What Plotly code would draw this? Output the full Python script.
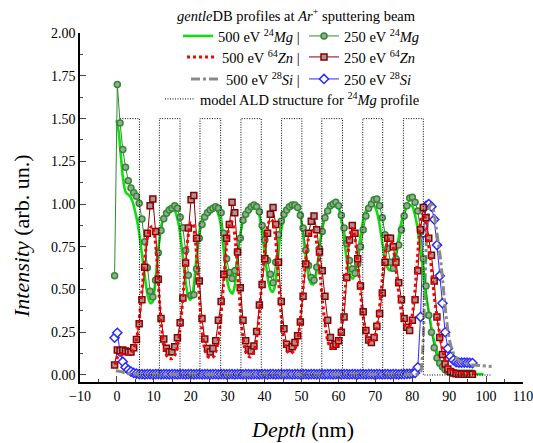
import plotly.graph_objects as go

FONT = "Liberation Serif"

# ---------------- data ----------------
# 250 eV profiles (measured points, common depth grid)
DEPTH_250 = [
    -0.63, 0.11, 0.85, 1.59, 2.33, 3.07, 3.81, 4.55, 5.29, 6.03,
    6.77, 7.51, 8.25, 8.99, 9.73, 10.47, 11.21, 11.95, 12.69, 13.43,
    14.17, 14.91, 15.65, 16.39, 17.13, 17.87, 18.61, 19.35, 20.09, 20.83,
    21.57, 22.31, 23.05, 23.79, 24.53, 25.27, 26.01, 26.75, 27.49, 28.23,
    28.97, 29.71, 30.45, 31.19, 31.93, 32.67, 33.41, 34.15, 34.89, 35.63,
    36.37, 37.11, 37.85, 38.59, 39.33, 40.07, 40.81, 41.55, 42.29, 43.03,
    43.77, 44.51, 45.25, 45.99, 46.73, 47.47, 48.21, 48.95, 49.69, 50.43,
    51.17, 51.91, 52.65, 53.39, 54.13, 54.87, 55.61, 56.35, 57.09, 57.83,
    58.57, 59.31, 60.05, 60.79, 61.53, 62.27, 63.01, 63.75, 64.49, 65.23,
    65.97, 66.71, 67.45, 68.19, 68.93, 69.67, 70.41, 71.15, 71.89, 72.63,
    73.37, 74.11, 74.85, 75.59, 76.33, 77.07, 77.81, 78.55, 79.29, 80.03,
    80.77, 81.51, 82.25, 82.99, 83.73, 84.47, 85.21, 85.95, 86.69, 87.43,
    88.17, 88.91, 89.65, 90.39, 91.13, 91.87, 92.61, 93.35, 94.09, 94.83,
    95.57, 96.31,
]
MG_250 = [
    0.58, 1.70, 1.475, 1.32, 1.215, 1.137, 1.094, 1.067, 1.046, 1.005,
    0.912, 0.78, 0.628, 0.49, 0.457, 0.554, 0.715, 0.845, 0.914, 0.946,
    0.966, 0.976, 0.99, 0.976, 0.923, 0.861, 0.729, 0.583, 0.466, 0.47,
    0.62, 0.80, 0.88, 0.925, 0.95, 0.965, 0.975, 0.985, 0.975, 0.95,
    0.83, 0.68, 0.60, 0.565, 0.61, 0.72, 0.80, 0.905, 0.94, 0.965,
    0.985, 0.995, 0.985, 0.955, 0.875, 0.79, 0.67, 0.59, 0.54, 0.66,
    0.82, 0.90, 0.94, 0.965, 0.985, 0.995, 0.995, 0.98, 0.935, 0.86,
    0.73, 0.64, 0.57, 0.555, 0.63, 0.74, 0.84, 0.92, 0.96, 0.99,
    1.0, 1.01, 0.99, 0.935, 0.86, 0.77, 0.67, 0.62, 0.595, 0.65,
    0.75, 0.85, 0.93, 0.975, 1.0, 1.025, 1.03, 0.99, 0.92, 0.82,
    0.74, 0.66, 0.625, 0.68, 0.76, 0.85, 0.93, 0.99, 1.035, 1.04,
    1.01, 0.96, 0.84, 0.68, 0.52, 0.35, 0.25, 0.16, 0.10, 0.068,
    0.048, 0.03, 0.02, 0.015, 0.012, 0.01, 0.01, 0.01, 0.01, 0.01,
    0.01, 0.01,
]
ZN_250 = [
    0.058, 0.146, 0.142, 0.146, 0.14, 0.134, 0.135, 0.16, 0.208, 0.30,
    0.44, 0.63, 0.83, 0.99, 1.03, 0.84, 0.56, 0.33, 0.21, 0.156,
    0.136, 0.136, 0.165, 0.218, 0.305, 0.45, 0.655, 0.86, 1.026, 1.05,
    0.80, 0.55, 0.33, 0.21, 0.155, 0.135, 0.155, 0.20, 0.32, 0.43,
    0.59, 0.80, 0.88, 1.01, 0.95, 0.72, 0.51, 0.32, 0.20, 0.15,
    0.14, 0.17, 0.255, 0.41, 0.53, 0.68, 0.83, 0.94, 0.98, 0.88,
    0.66, 0.43, 0.27, 0.18, 0.155, 0.165, 0.19, 0.23, 0.31, 0.46,
    0.65, 0.83, 0.90, 0.93, 0.85, 0.72, 0.61, 0.46, 0.32, 0.22,
    0.168, 0.18, 0.20, 0.25, 0.34, 0.57, 0.79, 0.875, 0.83, 0.68,
    0.52, 0.37, 0.26, 0.205, 0.19, 0.22, 0.285, 0.36, 0.48, 0.66,
    0.80, 0.80, 0.75, 0.66, 0.54, 0.44, 0.33, 0.28, 0.26, 0.32,
    0.44, 0.61, 0.85, 0.98, 0.92, 0.80, 0.70, 0.55, 0.34, 0.22,
    0.12, 0.065, 0.035, 0.02, 0.012, 0.008, 0.006, 0.005, 0.005, 0.005,
    0.005, 0.005,
]
SI_250 = [
    0.218, 0.247, 0.136, 0.078, 0.045, 0.03, 0.02, 0.012, 0.008, 0.005,
    0.005, 0.004, 0.005, 0.005, 0.004, 0.005, 0.005, 0.004, 0.005, 0.005,
    0.004, 0.005, 0.005, 0.004, 0.005, 0.005, 0.004, 0.005, 0.005, 0.004,
    0.005, 0.005, 0.004, 0.005, 0.005, 0.004, 0.005, 0.005, 0.004, 0.005,
    0.005, 0.004, 0.005, 0.005, 0.004, 0.005, 0.005, 0.004, 0.005, 0.005,
    0.004, 0.005, 0.005, 0.004, 0.005, 0.005, 0.004, 0.005, 0.005, 0.004,
    0.005, 0.005, 0.004, 0.005, 0.005, 0.004, 0.005, 0.005, 0.004, 0.005,
    0.005, 0.004, 0.005, 0.005, 0.004, 0.005, 0.005, 0.004, 0.005, 0.005,
    0.004, 0.005, 0.005, 0.004, 0.005, 0.005, 0.004, 0.005, 0.005, 0.004,
    0.005, 0.005, 0.004, 0.005, 0.005, 0.004, 0.005, 0.005, 0.004, 0.005,
    0.005, 0.004, 0.005, 0.005, 0.004, 0.005, 0.005, 0.006, 0.007, 0.008,
    0.012, 0.045, 0.34, 0.83, 0.99, 1.0, 0.985, 0.91, 0.76, 0.58,
    0.42, 0.25, 0.155, 0.108, 0.087, 0.075, 0.072, 0.072, 0.073, 0.072,
    0.071, 0.07,
]

# 500 eV profiles (continuous curves)
DEPTH_MG_500 = [
    -0.1, 0.5, 1.0, 1.5, 2.0, 2.5, 3.1, 3.7, 4.3, 4.9,
    5.5, 6.1, 6.7, 7.3, 7.9, 8.5, 9.1, 9.7, 10.3, 10.9,
    11.5, 12.1, 12.7, 13.4, 14.1, 14.8, 15.5, 16.2, 16.9, 17.5,
    18.1, 18.7, 19.3, 19.8, 20.4, 21.0, 21.6, 22.2, 22.8, 23.5,
    24.3, 25.2, 26.0, 26.8, 27.5, 28.2, 28.8, 29.4, 30.0, 30.7,
    31.3, 31.9, 32.5, 33.1, 33.8, 34.5, 35.3, 36.2, 37.0, 37.8,
    38.5, 39.1, 39.7, 40.3, 41.0, 41.6, 42.2, 42.8, 43.4, 44.0,
    44.7, 45.4, 46.2, 47.1, 48.0, 48.8, 49.5, 50.1, 50.7, 51.3,
    51.9, 52.6, 53.2, 53.8, 54.4, 55.0, 55.7, 56.4, 57.2, 58.0,
    58.8, 59.6, 60.3, 60.9, 61.5, 62.1, 62.7, 63.3, 63.9, 64.5,
    65.1, 65.7, 66.4, 67.1, 67.9, 68.7, 69.5, 70.2, 70.9, 71.5,
    72.1, 72.8, 73.5, 74.2, 74.9, 75.6, 76.3, 77.0, 77.8, 78.6,
    79.4, 80.1, 80.8, 81.5, 82.1, 82.6, 83.2, 83.8, 84.4, 85.0,
    85.6, 86.2, 86.8, 87.4, 88.0, 88.7, 89.4, 90.5, 92.0, 95.0,
    99.3,
]
MG_500 = [
    1.49, 1.42, 1.30, 1.18, 1.10, 1.065, 1.055, 1.04, 1.01, 0.96,
    0.90, 0.82, 0.72, 0.62, 0.52, 0.45, 0.42, 0.43, 0.52, 0.66,
    0.79, 0.88, 0.93, 0.955, 0.97, 0.978, 0.97, 0.93, 0.86, 0.76,
    0.64, 0.53, 0.46, 0.44, 0.46, 0.56, 0.70, 0.82, 0.89, 0.93,
    0.955, 0.975, 0.985, 0.975, 0.94, 0.87, 0.76, 0.64, 0.54, 0.49,
    0.476, 0.52, 0.64, 0.77, 0.87, 0.93, 0.965, 0.985, 0.99, 0.975,
    0.94, 0.87, 0.77, 0.66, 0.55, 0.50, 0.486, 0.52, 0.63, 0.77,
    0.87, 0.93, 0.965, 0.985, 0.995, 0.985, 0.95, 0.88, 0.78, 0.67,
    0.58, 0.535, 0.53, 0.57, 0.66, 0.77, 0.87, 0.94, 0.98, 1.0,
    1.01, 1.0, 0.96, 0.89, 0.80, 0.70, 0.62, 0.575, 0.564, 0.59,
    0.67, 0.77, 0.87, 0.94, 0.98, 1.0, 0.995, 0.97, 0.91, 0.83,
    0.74, 0.66, 0.62, 0.612, 0.63, 0.70, 0.80, 0.89, 0.95, 0.985,
    0.995, 0.985, 0.93, 0.85, 0.75, 0.67, 0.55, 0.46, 0.38, 0.30,
    0.23, 0.175, 0.125, 0.085, 0.058, 0.035, 0.02, 0.012, 0.008, 0.006,
    0.005,
]
DEPTH_ZN_500 = [
    -0.5, 0.3, 1.2, 2.2, 3.2, 4.0, 4.7, 5.4, 6.0, 6.6,
    7.2, 7.8, 8.4, 9.0, 9.6, 10.2, 10.8, 11.4, 12.0, 12.6,
    13.3, 14.0, 14.8, 15.6, 16.3, 17.0, 17.6, 18.2, 18.8, 19.4,
    20.0, 20.6, 21.2, 21.8, 22.4, 23.0, 23.7, 24.5, 25.4, 26.3,
    27.1, 27.8, 28.4, 29.0, 29.6, 30.2, 30.8, 31.4, 32.0, 32.6,
    33.2, 33.8, 34.5, 35.3, 36.2, 37.0, 37.7, 38.4, 39.0, 39.6,
    40.2, 40.8, 41.5, 42.2, 42.8, 43.4, 44.0, 44.6, 45.3, 46.1,
    47.0, 47.9, 48.7, 49.4, 50.0, 50.6, 51.2, 51.8, 52.5, 53.2,
    53.9, 54.5, 55.1, 55.7, 56.3, 57.0, 57.7, 58.5, 59.3, 60.0,
    60.7, 61.3, 61.9, 62.5, 63.0, 63.6, 64.2, 64.8, 65.4, 66.0,
    66.6, 67.3, 68.0, 68.8, 69.6, 70.3, 70.9, 71.5, 72.1, 72.7,
    73.4, 74.1, 74.8, 75.4, 76.0, 76.6, 77.2, 77.9, 78.6, 79.3,
    80.0, 80.6, 81.2, 81.8, 82.4, 83.0, 83.6, 84.2, 84.85, 85.4,
    86.0, 86.6, 87.2, 87.8, 88.5, 89.2, 90.0, 91.2, 93.0, 97.0,
]
ZN_500 = [
    0.06, 0.11, 0.12, 0.12, 0.12, 0.13, 0.16, 0.22, 0.32, 0.45,
    0.60, 0.73, 0.82, 0.86, 0.87, 0.82, 0.68, 0.48, 0.30, 0.18,
    0.12, 0.098, 0.095, 0.11, 0.16, 0.25, 0.38, 0.55, 0.71, 0.83,
    0.89, 0.885, 0.80, 0.63, 0.43, 0.27, 0.16, 0.11, 0.10, 0.11,
    0.16, 0.26, 0.40, 0.57, 0.73, 0.85, 0.90, 0.89, 0.80, 0.64,
    0.45, 0.29, 0.17, 0.115, 0.105, 0.13, 0.19, 0.32, 0.47, 0.63,
    0.77, 0.87, 0.91, 0.90, 0.83, 0.68, 0.49, 0.32, 0.20, 0.14,
    0.125, 0.14, 0.18, 0.27, 0.40, 0.55, 0.69, 0.79, 0.84, 0.845,
    0.80, 0.70, 0.57, 0.43, 0.31, 0.21, 0.165, 0.155, 0.165, 0.20,
    0.27, 0.38, 0.52, 0.68, 0.80, 0.86, 0.84, 0.75, 0.62, 0.48,
    0.36, 0.26, 0.205, 0.19, 0.205, 0.26, 0.35, 0.47, 0.61, 0.72,
    0.79, 0.795, 0.75, 0.66, 0.54, 0.43, 0.35, 0.29, 0.275, 0.29,
    0.35, 0.46, 0.62, 0.80, 0.92, 0.95, 0.91, 0.80, 0.69, 0.58,
    0.45, 0.36, 0.27, 0.19, 0.12, 0.065, 0.035, 0.018, 0.01, 0.008,
]
DEPTH_SI_500 = [
    -0.3, 1.0, 2.5, 4.0, 6.0, 10.0, 20.0, 30.0, 40.0, 50.0,
    60.0, 70.0, 80.0, 81.6, 82.3, 82.9, 83.4, 83.9, 84.5, 85.1,
    85.7, 86.3, 87.0, 87.6, 88.3, 88.9, 89.6, 90.3, 91.2, 92.5,
    94.0, 96.0, 98.9, 101.5,
]
SI_500 = [
    0.025, 0.02, 0.012, 0.007, 0.005, 0.004, 0.004, 0.004, 0.004, 0.004,
    0.004, 0.004, 0.004, 0.005, 0.02, 0.17, 0.50, 0.82, 0.97, 1.0,
    0.97, 0.89, 0.78, 0.69, 0.54, 0.40, 0.27, 0.185, 0.126, 0.087,
    0.07, 0.06, 0.054, 0.05,
]

# model ALD structure (layer boundaries, nm) and level
MODEL_DEPTH = [0.8, 6.1, 11.5, 17.1, 22.5, 28.1, 33.6, 39.1, 44.6, 50.1,
               55.5, 61.1, 66.6, 72.0, 77.6, 83.0, 101.6]
MODEL_LEVEL = [1.5, 0, 1.5, 0, 1.5, 0, 1.5, 0, 1.5, 0,
               1.5, 0, 1.5, 0, 1.5, 0, 0]

NAME_MG500 = "500 eV <sup>24</sup><i>Mg</i> |"
NAME_MG250 = "250 eV <sup>24</sup><i>Mg</i>"
NAME_ZN500 = "500 eV <sup>64</sup><i>Zn</i> |"
NAME_ZN250 = "250 eV <sup>64</sup><i>Zn</i>"
NAME_SI500 = "500 eV <sup>28</sup><i>Si</i> |"
NAME_SI250 = "250 eV <sup>28</sup><i>Si</i>"
NAME_MODEL = "model ALD structure for <sup>24</sup><i>Mg</i> profile"
LEGEND_TITLE = "<i>gentle</i>DB profiles at <i>Ar</i><sup>+</sup> sputtering beam"
X_TITLE = "<i>Depth</i> (nm)"
Y_TITLE = "<i>Intensity</i> (arb. un.)"

# ---------------- figure ----------------
fig = go.Figure()

fig.add_trace(go.Scatter(
    x=DEPTH_250, y=SI_250, mode="lines+markers", name=NAME_SI250, legend="legend6",
    line=dict(color="#2a2aff", width=1),
    marker=dict(symbol="diamond", size=7, color="white",
                line=dict(color="#2a2aff", width=1.5))))
fig.add_trace(go.Scatter(
    x=DEPTH_SI_500, y=SI_500, mode="lines", name=NAME_SI500, legend="legend5",
    line=dict(color="#8a8a8a", width=3, dash="dashdot", shape="spline", smoothing=0.6)))
fig.add_trace(go.Scatter(
    x=DEPTH_MG_500, y=MG_500, mode="lines", name=NAME_MG500, legend="legend",
    line=dict(color="#11dd11", width=2.6, shape="spline", smoothing=0.6)))
fig.add_trace(go.Scatter(
    x=DEPTH_250, y=MG_250, mode="lines+markers", name=NAME_MG250, legend="legend2",
    line=dict(color="#2e8b2e", width=1),
    marker=dict(symbol="circle", size=6, color="#9aa89a",
                line=dict(color="#2e8b2e", width=1.5))))
fig.add_trace(go.Scatter(
    x=DEPTH_250, y=ZN_250, mode="lines+markers", name=NAME_ZN250, legend="legend4",
    line=dict(color="#8b0000", width=1),
    marker=dict(symbol="square", size=6, color="#a89494",
                line=dict(color="#8b0000", width=1.5))))
fig.add_trace(go.Scatter(
    x=DEPTH_ZN_500, y=ZN_500, mode="lines", name=NAME_ZN500, legend="legend3",
    line=dict(color="#ff0000", width=3, dash="dot", shape="spline", smoothing=0.6)))
fig.add_trace(go.Scatter(
    x=MODEL_DEPTH, y=MODEL_LEVEL, mode="lines", name=NAME_MODEL, legend="legend7",
    line=dict(color="#000000", width=1, dash="1px,1.5px", shape="hv")))

W, H = 533, 443
ML, MR, MT, MB = 80, 10, 33, 61
PW, PH = W - ML - MR, H - MT - MB
legfont = dict(family=FONT, size=14.5, color="black")


def leg(xpx, ypx, anchor):
    return dict(xref="container", yref="container", x=xpx / W, y=1 - ypx / H,
                xanchor=anchor, yanchor="middle", bgcolor="rgba(0,0,0,0)",
                borderwidth=0, font=legfont, itemwidth=30)


def px(xp, yp):
    return (xp - ML) / PW, (H - MB - yp) / PH


tx, ty = px(296, 15)
xx, xy = px(302, 429)
yx, yy = px(22, 236)

fig.update_layout(
    width=W, height=H,
    margin=dict(l=ML, r=MR, t=MT, b=MB, autoexpand=False),
    paper_bgcolor="white", plot_bgcolor="white",
    font=dict(family=FONT, size=13, color="black"),
    showlegend=True,
    legend=leg(305, 36, "right"),
    legend3=leg(305, 57, "right"),
    legend5=leg(305, 79, "right"),
    legend2=leg(304, 36, "left"),
    legend4=leg(304, 57, "left"),
    legend6=leg(304, 79, "left"),
    legend7=leg(160, 99, "left"),
    xaxis=dict(
        range=[-10, 110], tickmode="linear", tick0=-10, dtick=10,
        ticks="inside", ticklen=6, tickwidth=1.2, ticklabeloverflow="allow",
        showline=True, linecolor="black", linewidth=1.5, showgrid=False, zeroline=False,
        tickfont=dict(family=FONT, size=14, color="black"),
        minor=dict(tickmode="linear", tick0=-10, dtick=5, ticks="inside", ticklen=3,
                   tickwidth=1.2, showgrid=False),
    ),
    yaxis=dict(
        range=[-0.041, 2.001], tickmode="linear", tick0=0, dtick=0.25, tickformat=".2f",
        ticks="inside", ticklen=6, tickwidth=1.2, ticklabeloverflow="allow",
        showline=True, linecolor="black", linewidth=1.5, showgrid=False, zeroline=False,
        tickfont=dict(family=FONT, size=14, color="black"),
        minor=dict(tickmode="linear", tick0=0, dtick=0.125, ticks="inside", ticklen=3,
                   tickwidth=1.2, showgrid=False),
    ),
    annotations=[
        dict(text=LEGEND_TITLE, xref="paper", yref="paper", x=tx, y=ty,
             xanchor="center", yanchor="middle", showarrow=False,
             font=dict(family=FONT, size=14.5, color="black")),
        dict(text=X_TITLE, xref="paper", yref="paper", x=xx, y=xy,
             xanchor="center", yanchor="middle", showarrow=False,
             font=dict(family=FONT, size=22, color="black")),
        dict(text=Y_TITLE, xref="paper", yref="paper", x=yx, y=yy, textangle=-90,
             xanchor="center", yanchor="middle", showarrow=False,
             font=dict(family=FONT, size=22, color="black")),
    ],
)

fig.write_html("out.html", config={"displayModeBar": False},
               post_script="document.body.style.margin='0px';")
